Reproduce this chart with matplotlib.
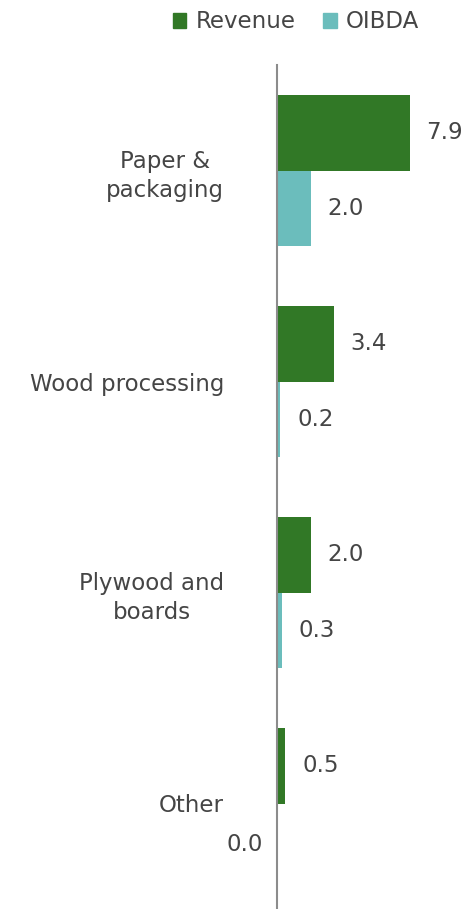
import matplotlib
matplotlib.use("Agg")
import matplotlib.pyplot as plt
from matplotlib.patches import Patch
import numpy as np

categories = ["Paper &\npackaging", "Wood processing", "Plywood and\nboards", "Other"]
revenue = [7.9, 3.4, 2.0, 0.5]
oibda = [2.0, 0.2, 0.3, 0.0]
series_names = ["Revenue", "OIBDA"]

GREEN = "#317826"
TEAL = "#6bbdbc"
TEXT = "#454545"

plt.rcParams["font.family"] = ["DejaVu Sans"]

W, H = 466, 909
fig = plt.figure(figsize=(W / 100, H / 100), dpi=100)
ax = fig.add_axes([277 / W, 0, 1 - 277 / W, 1 - 65 / H])

y = np.arange(len(categories))
bh = 0.358
ax.barh(y - bh / 2, revenue, height=bh, color=GREEN, edgecolor="none")
ax.barh(y + bh / 2, oibda, height=bh, color=TEAL, edgecolor="none")

ax.set_xlim(0, 11.25)
ax.set_ylim(len(categories) - 0.5, -0.5)

VAL_FS = 16.5
for yi, v in zip(y - bh / 2, revenue):
    ax.annotate(f"{v:.1f}", (v, yi), xytext=(12, 0), textcoords="offset points",
                va="center", ha="left", fontsize=VAL_FS, color=TEXT)
for yi, v in zip(y + bh / 2, oibda):
    if v > 0:
        ax.annotate(f"{v:.1f}", (v, yi), xytext=(12, 0), textcoords="offset points",
                    va="center", ha="left", fontsize=VAL_FS, color=TEXT)
    else:
        ax.annotate(f"{v:.1f}", (0, yi), xytext=(-10.5, -2), textcoords="offset points",
                    va="center", ha="right", fontsize=VAL_FS, color=TEXT)

ax.set_yticks(y)
ax.set_yticklabels(categories, fontsize=16.5, color=TEXT, multialignment="center",
                   linespacing=1.35)
ax.tick_params(axis="y", length=0, pad=38)
ax.set_xticks([])
for s in ["top", "right", "bottom"]:
    ax.spines[s].set_visible(False)
ax.spines["left"].set_color("#8c8c8c")
ax.spines["left"].set_linewidth(1.5)

handles = [Patch(color=GREEN), Patch(color=TEAL)]
fig.legend(handles, series_names, loc="center", bbox_to_anchor=(296 / W, 1 - 22 / H),
           ncol=2, frameon=False, fontsize=16.5, labelcolor=TEXT,
           handlelength=0.6, handleheight=0.6, handletextpad=0.4, columnspacing=1.2)

fig.savefig("out.png", dpi=100)
